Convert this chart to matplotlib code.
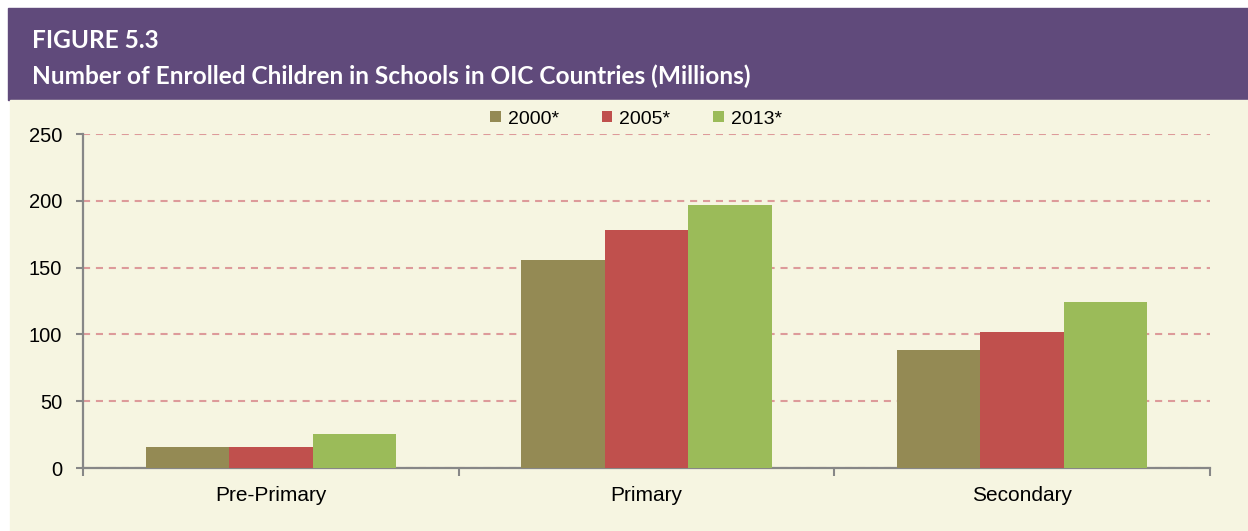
import matplotlib.pyplot as plt
from matplotlib.patches import Rectangle
import numpy as np

categories = ['Pre-Primary', 'Primary', 'Secondary']
years = ['2000*', '2005*', '2013*']
v2000 = [15.8, 155.9, 88.3]
v2005 = [16.0, 178.0, 101.6]
v2013 = [25.5, 197.0, 124.1]
colors = ['#948A54', '#C0504D', '#9BBB59']

W, H = 1248, 531
fig = plt.figure(figsize=(W / 100, H / 100), dpi=100)
fig.patch.set_facecolor('white')

# header band and cream panel
fig.add_artist(Rectangle((8 / W, (H - 100) / H), 1 - 8 / W, 92 / H,
                         transform=fig.transFigure, color='#604A7B', zorder=0))
fig.add_artist(Rectangle((10 / W, 0), 1 - 10 / W, (H - 100) / H,
                         transform=fig.transFigure, color='#F6F5E1', zorder=0))

fig.text(32 / W, 1 - 40 / H, 'FIGURE 5.3', color='white', fontsize=17.6,
         fontweight='bold', family='Lato', va='center', ha='left')
fig.text(32 / W, 1 - 76 / H, 'Number of Enrolled Children in Schools in OIC Countries (Millions)',
         color='white', fontsize=17.6, fontweight='bold', family='Lato', va='center', ha='left')

ax = fig.add_axes([83 / W, (H - 468) / H, (1210 - 83) / W, (468 - 134) / H])
ax.set_facecolor('none')

x = np.arange(len(categories))
bw = 2 / 3 / 3
for i, (vals, lab) in enumerate(zip([v2000, v2005, v2013], years)):
    ax.bar(x + (i - 1) * bw, vals, width=bw, color=colors[i], label=lab, zorder=3)

ax.set_xlim(-0.5, 2.5)
ax.set_ylim(0, 250)
ax.set_yticks(range(0, 251, 50))
ax.yaxis.grid(True, color='#DD9A9A', linestyle=(0, (3.4, 2.8)), linewidth=1.5, zorder=1)
ax.set_axisbelow(True)

for s in ['top', 'right']:
    ax.spines[s].set_visible(False)
for s in ['left', 'bottom']:
    ax.spines[s].set_color('#878787')
    ax.spines[s].set_linewidth(1.6)

ax.tick_params(axis='y', direction='out', length=5, width=1.5, color='#878787',
               labelsize=14.5, pad=10, labelfontfamily='Liberation Sans')
ax.set_xticks([-0.5, 0.5, 1.5, 2.5])
ax.set_xticklabels([])
ax.set_xticks(x, minor=True)
ax.set_xticklabels(categories, minor=True, fontsize=15, family='Liberation Sans')
ax.tick_params(axis='x', which='major', direction='out', length=6, width=1.5, color='#878787')
ax.tick_params(axis='x', which='minor', length=0, pad=13)

fig.legend(loc='center', bbox_to_anchor=(636 / W, 1 - 119 / H), ncol=3, frameon=False,
           prop={'family': 'Liberation Sans', 'size': 14}, handlelength=0.55,
           handleheight=0.55, handletextpad=0.35, columnspacing=2.2)

fig.savefig('out.png', dpi=100)
